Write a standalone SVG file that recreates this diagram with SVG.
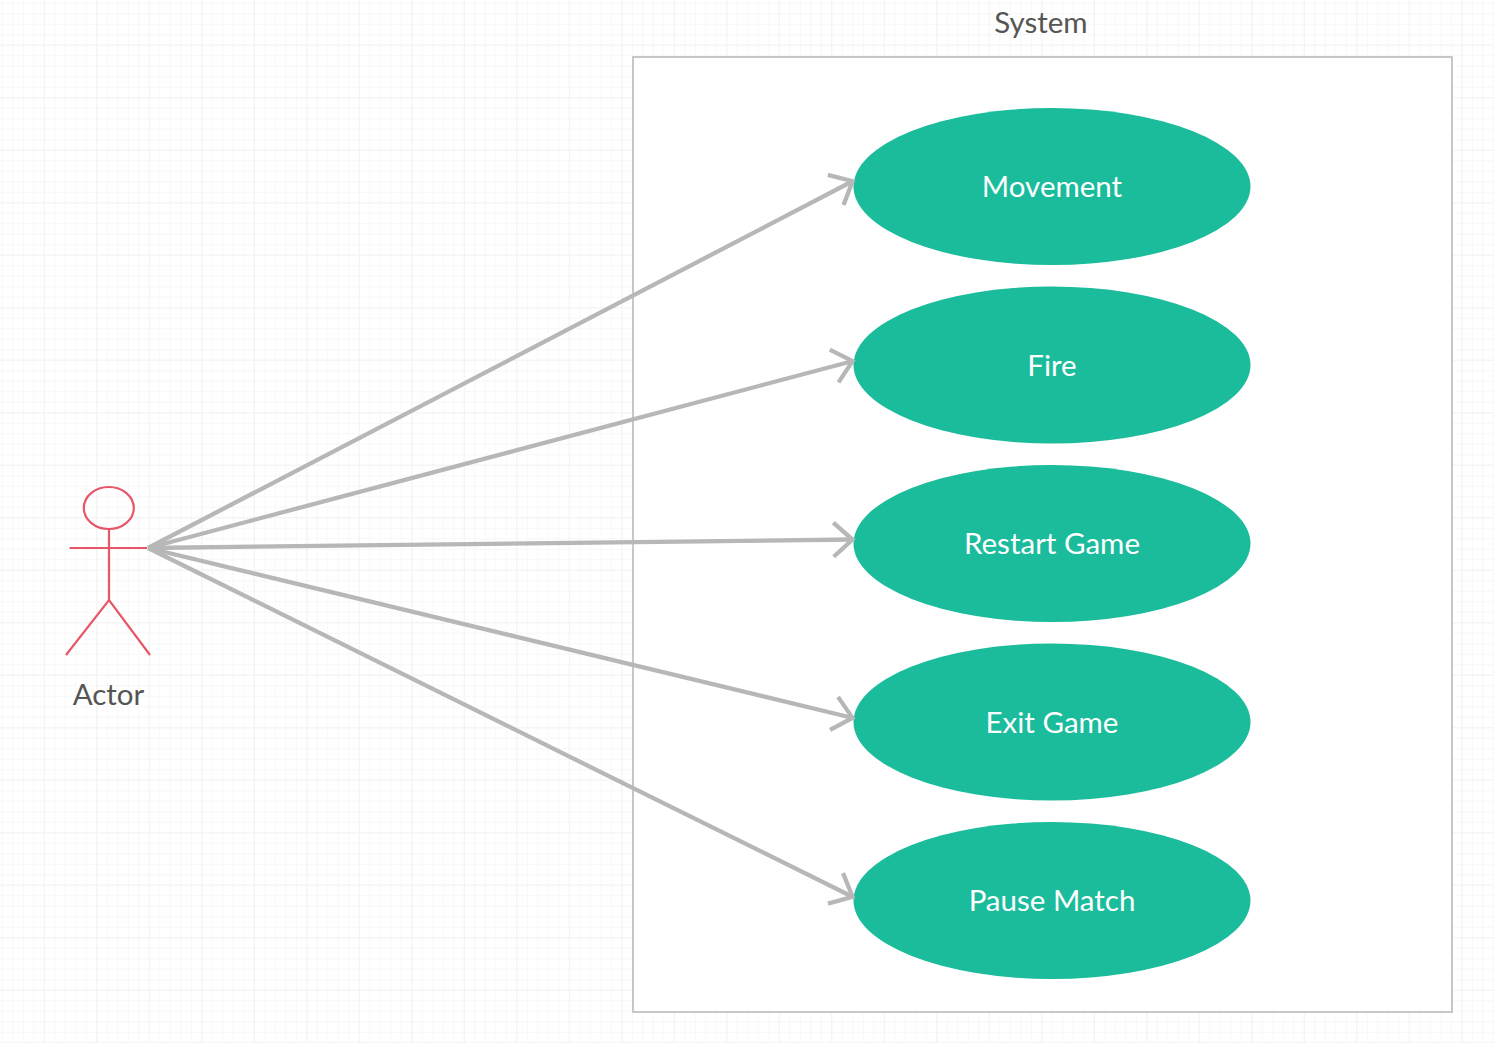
<svg xmlns="http://www.w3.org/2000/svg" width="1494" height="1043" viewBox="0 0 1494 1043">
<style>
text{font-family:Lato,"Noto Sans","Liberation Sans",sans-serif;font-size:29.5px;text-anchor:middle}
.dark{fill:#555555}
.light{fill:#ffffff}
.uc{fill:#1abc9c;stroke:none}
.actor{fill:none;stroke:#e8566a;stroke-width:2.200}
.conn{fill:none;stroke:#b7b7b7;stroke-width:4.300;marker-end:url(#open)}
.gv{fill:none;stroke-width:1043}
.gh{fill:none;stroke-width:1494}
</style>
<defs>
<marker id="open" markerUnits="userSpaceOnUse" markerWidth="40" markerHeight="50" refX="30" refY="25" orient="auto" overflow="visible">
<path d="M10.500,8 L29.500,25 L10.500,42" fill="none" stroke="#b7b7b7" stroke-width="4.300"/>
</marker>
</defs>
<rect width="1494" height="1043" fill="#ffffff"/>
<g id="grid">
<path class="gv" d="M1.800,521.500H1494" stroke="#f8f8f8" stroke-dasharray="1 9.500"/>
<path class="gh" d="M747,2.800V1043" stroke="#f8f8f8" stroke-dasharray="1 9.500"/>
<path class="gv" d="M43.800,521.500H1494" stroke="#f3f3f3" stroke-dasharray="1 51.500"/>
<path class="gh" d="M747,44.800V1043" stroke="#f3f3f3" stroke-dasharray="1 51.500"/>
</g>
<g id="system">
<rect x="633" y="57" width="819" height="955" fill="#ffffff" stroke="#c7c7c7" stroke-width="2"/>
<text class="dark" x="1041" y="33">System</text>
</g>
<g id="uc-movement"><ellipse class="uc" cx="1052" cy="186.500" rx="198.500" ry="78.500"/><text class="light" x="1052" y="197">Movement</text></g>
<g id="uc-fire"><ellipse class="uc" cx="1052" cy="365" rx="198.500" ry="78.500"/><text class="light" x="1052" y="376">Fire</text></g>
<g id="uc-restart"><ellipse class="uc" cx="1052" cy="543.500" rx="198.500" ry="78.500"/><text class="light" x="1052" y="554">Restart Game</text></g>
<g id="uc-exit"><ellipse class="uc" cx="1052" cy="722" rx="198.500" ry="78.500"/><text class="light" x="1052" y="733">Exit Game</text></g>
<g id="uc-pause"><ellipse class="uc" cx="1052" cy="900.500" rx="198.500" ry="78.500"/><text class="light" x="1052" y="911">Pause Match</text></g>
<g id="actor">
<ellipse class="actor" cx="108.800" cy="508" rx="25" ry="21"/>
<path class="actor" d="M109,529V600M69.500,548H147M66,655L109,600L150,655"/>
<text class="dark" x="108.500" y="705">Actor</text>
</g>
<g id="connectors">
<path class="conn" d="M148,548L853,181"/>
<path class="conn" d="M148,548L853,361"/>
<path class="conn" d="M148,548L853,539.500"/>
<path class="conn" d="M148,548L853,718"/>
<path class="conn" d="M148,548L853,897"/>
</g>
</svg>
